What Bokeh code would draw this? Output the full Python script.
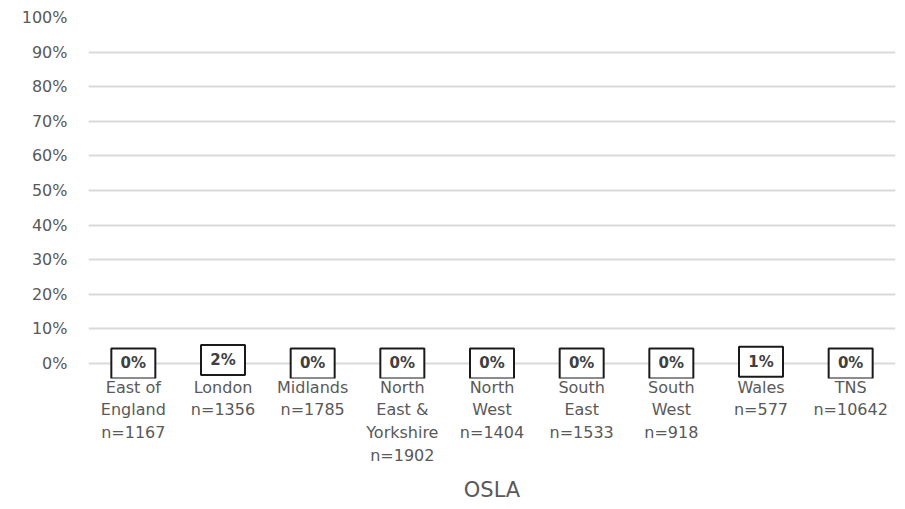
from bokeh.plotting import figure
from bokeh.models import FactorRange, NumeralTickFormatter, FixedTicker, ColumnDataSource
from bokeh.core.properties import value
from bokeh.embed import file_html
from bokeh.resources import INLINE

categories = ["East of\nEngland\nn=1167", "London\nn=1356", "Midlands\nn=1785",
              "North\nEast &\nYorkshire\nn=1902", "North\nWest\nn=1404", "South\nEast\nn=1533",
              "South\nWest\nn=918", "Wales\nn=577", "TNS\nn=10642"]
values = [0.0, 0.02, 0.0, 0.0, 0.0, 0.0, 0.0, 0.01, 0.0]
labels = ["0%", "2%", "0%", "0%", "0%", "0%", "0%", "1%", "0%"]
y_ticks = [0, 0.1, 0.2, 0.3, 0.4, 0.5, 0.6, 0.7, 0.8, 0.9, 1.0]

FONT = "DejaVu Sans"
src = ColumnDataSource(dict(x=categories, top=values, mid=[v / 2 for v in values], lab=labels))

p = figure(x_range=FactorRange(*categories, range_padding=0), y_range=(-0.0435, 1.0),
           width=900, height=505, output_backend="svg", toolbar_location=None,
           min_border_left=88, min_border_right=5, min_border_top=17, min_border_bottom=0)
p.outline_line_color = None
p.background_fill_color = "white"

p.vbar(x="x", top="top", width=0.6, source=src, fill_alpha=0, line_alpha=0)
p.rect(x="x", y="mid", width=44, height=30, width_units="screen", height_units="screen",
       source=src, fill_color="white", line_color="#1a1a1a", line_width=2)
p.text(x="x", y="mid", text="lab", source=src, text_align="center", text_baseline="middle",
       text_font=value(FONT), text_font_size="15px", text_font_style="bold", text_color="#404040")

p.xgrid.grid_line_color = None
p.ygrid.grid_line_color = "#d9d9d9"
p.ygrid.grid_line_width = 2
p.yaxis.ticker = FixedTicker(ticks=y_ticks)
p.yaxis.formatter = NumeralTickFormatter(format="0%")
for ax in (p.xaxis, p.yaxis):
    ax.axis_line_color = None
    ax.major_tick_line_color = None
    ax.minor_tick_line_color = None
    ax.major_label_text_font = FONT
    ax.major_label_text_font_size = "16px"
    ax.major_label_text_color = "#595959"
p.yaxis.major_label_standoff = 15
p.xaxis.major_label_standoff = -7
p.xaxis.major_label_text_line_height = 1.21
p.xaxis.axis_label = "OSLA"
p.xaxis.axis_label_text_font = FONT
p.xaxis.axis_label_text_font_size = "21px"
p.xaxis.axis_label_text_font_style = "normal"
p.xaxis.axis_label_text_color = "#595959"
p.xaxis.axis_label_standoff = 10

open("out.html", "w").write(file_html(p, INLINE))
